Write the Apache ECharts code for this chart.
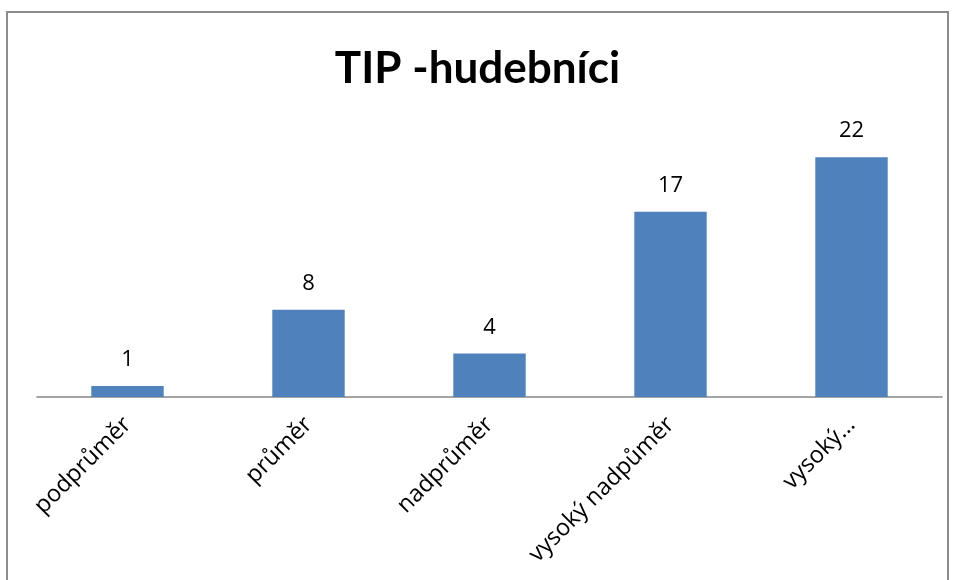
<!DOCTYPE html>
<html>
<head>
<meta charset="utf-8">
<script src="https://cdn.jsdelivr.net/npm/echarts@6/dist/echarts.min.js"></script>
<style>
  html, body { margin: 0; padding: 0; background: #fff; }
  #chart { width: 955px; height: 580px; }
</style>
</head>
<body>
<div id="chart"></div>
<script>
// Categories and counts for the bar chart
const categories = ['podprůměr', 'průměr', 'nadprůměr', 'vysoký nadpůměr', 'vysoký…'];
const counts = [1, 8, 4, 17, 22];
const chartTitle = 'TIP -hudebníci';

const chart = echarts.init(document.getElementById('chart'), null, { renderer: 'canvas' });

chart.setOption({
  animation: false,
  backgroundColor: '#ffffff',
  graphic: [{
    type: 'rect',
    shape: { x: 7, y: 12, width: 941, height: 600 },
    style: { fill: 'none', stroke: '#8c8c8c', lineWidth: 2 },
    silent: true,
    z: -1
  }],
  title: {
    text: chartTitle,
    left: 'center',
    top: 42,
    textStyle: {
      fontFamily: 'Lato',
      fontWeight: 'bold',
      fontSize: 44,
      color: '#000'
    }
  },
  grid: {
    left: 37,
    right: 13,
    top: 124.5,
    bottom: 183,
    containLabel: false
  },
  xAxis: {
    type: 'category',
    data: categories,
    axisLine: { lineStyle: { color: '#868686', width: 1.5 } },
    axisTick: { show: false },
    axisLabel: {
      rotate: 45,
      interval: 0,
      margin: 24,
      fontFamily: 'Open Sans',
      fontSize: 23.5,
      color: '#000'
    }
  },
  yAxis: {
    type: 'value',
    min: 0,
    max: 25,
    show: false,
    splitLine: { show: false }
  },
  series: [{
    type: 'bar',
    data: counts,
    barWidth: '40%',
    itemStyle: { color: '#4f81bd' },
    label: {
      show: true,
      position: 'top',
      distance: 15,
      fontFamily: 'Open Sans',
      fontSize: 22,
      color: '#000'
    }
  }]
});
</script>
</body>
</html>
